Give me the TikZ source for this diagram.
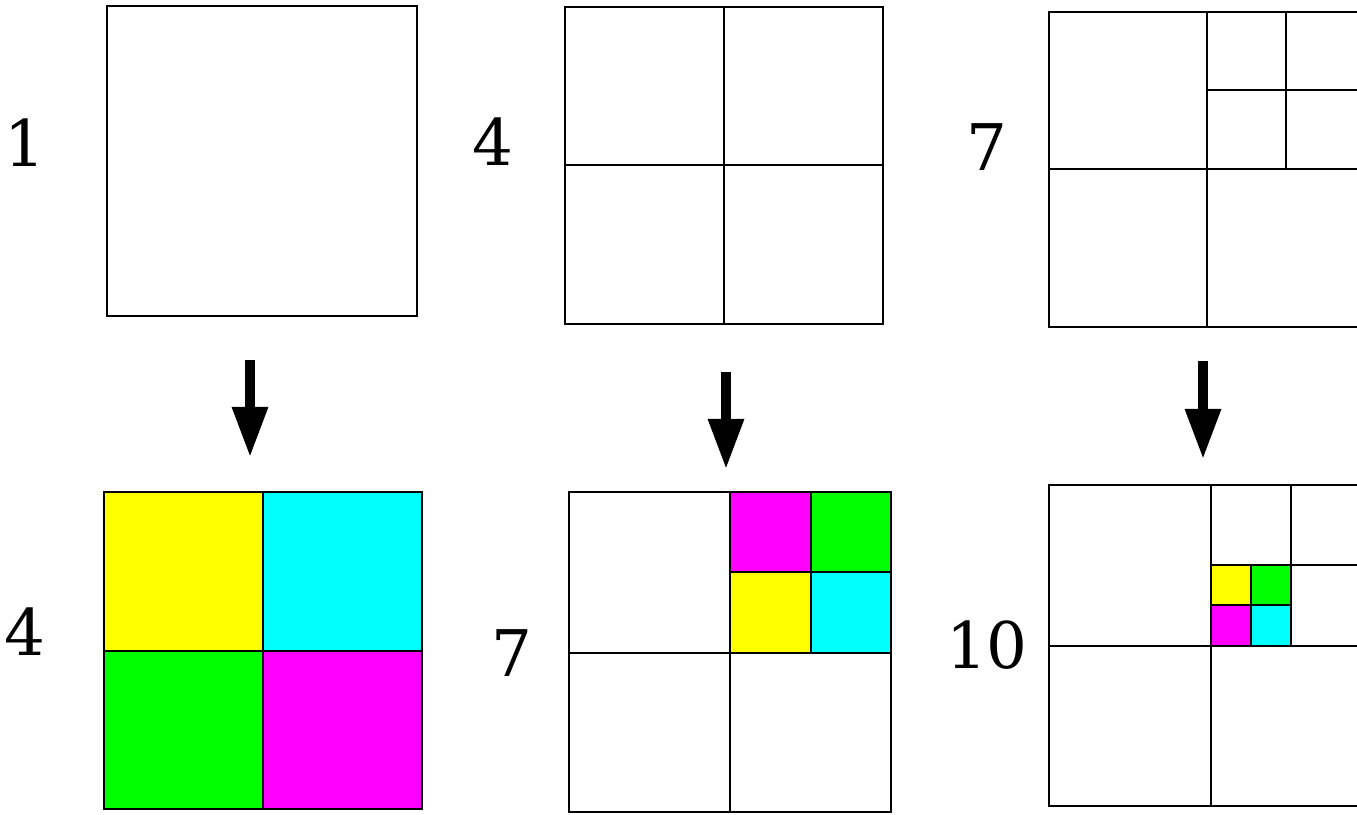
\documentclass[tikz,border=0pt]{standalone}
\usepackage{fontspec}
\setmainfont{DejaVu Serif}
\usetikzlibrary{arrows.meta}
\begin{document}
\begin{tikzpicture}[font=\fontsize{18.3}{22}\selectfont,
    grid/.style={draw=black, line width=0.7pt},
    stepdown/.style={-{Triangle[width=0.34cm, length=0.5cm]}, line width=2.6pt}]
    \definecolor{qyellow}{RGB}{255, 255, 0}
    \definecolor{qcyan}{RGB}{0, 255, 255}
    \definecolor{qgreen}{RGB}{0, 255, 0}
    \definecolor{qmagenta}{RGB}{255, 0, 255}
    \clip (0,0) rectangle (13.57,8.14);
    % counts
    \node (cntA) at (0.25,6.71) {1};
    \node (cntB) at (4.93,6.72) {4};
    \node (cntC) at (9.87,6.67) {7};
    \node (cntD) at (0.25,1.82) {4};
    \node (cntE) at (5.12,1.61) {7};
    \node (cntF) at (9.87,1.69) {10};
    % first column
    \draw[grid] (1.07,8.08) rectangle (4.17,4.98);
    \fill[qyellow] (1.04,3.22) rectangle (2.63,1.63);
    \fill[qcyan] (2.63,3.22) rectangle (4.22,1.63);
    \fill[qgreen] (1.04,1.63) rectangle (2.63,0.05);
    \fill[qmagenta] (2.63,1.63) rectangle (4.22,0.05);
    \draw[grid] (1.04,3.22) rectangle (4.22,0.05);
    \draw[grid] (2.63,3.22) -- (2.63,0.05) (1.04,1.63) -- (4.22,1.63);
    % second column
    \draw[grid] (5.65,8.07) rectangle (8.83,4.90);
    \draw[grid] (7.24,8.07) -- (7.24,4.90) (5.65,6.49) -- (8.83,6.49);
    \fill[qmagenta] (7.30,3.22) rectangle (8.11,2.42);
    \fill[qgreen] (8.11,3.22) rectangle (8.91,2.42);
    \fill[qyellow] (7.30,2.42) rectangle (8.11,1.61);
    \fill[qcyan] (8.11,2.42) rectangle (8.91,1.61);
    \draw[grid] (5.69,3.22) rectangle (8.91,0.02);
    \draw[grid] (7.30,3.22) -- (7.30,0.02) (5.69,1.61) -- (8.91,1.61);
    \draw[grid] (8.11,3.22) -- (8.11,1.61) (7.30,2.42) -- (8.91,2.42);
    % third column
    \draw[grid] (10.49,8.02) rectangle (13.67,4.87);
    \draw[grid] (12.07,8.02) -- (12.07,4.87) (10.49,6.45) -- (13.67,6.45);
    \draw[grid] (12.86,8.02) -- (12.86,6.45) (12.07,7.24) -- (13.67,7.24);
    \fill[qyellow] (12.11,2.49) rectangle (12.51,2.09);
    \fill[qgreen] (12.51,2.49) rectangle (12.91,2.09);
    \fill[qmagenta] (12.11,2.09) rectangle (12.51,1.68);
    \fill[qcyan] (12.51,2.09) rectangle (12.91,1.68);
    \draw[grid] (10.49,3.29) rectangle (13.70,0.08);
    \draw[grid] (12.11,3.29) -- (12.11,0.08) (10.49,1.68) -- (13.70,1.68);
    \draw[grid] (12.91,3.29) -- (12.91,1.68) (12.11,2.49) -- (13.70,2.49);
    \draw[grid] (12.51,2.49) -- (12.51,1.68) (12.11,2.09) -- (12.91,2.09);
    % arrows
    \coordinate (fromA) at (2.50,4.54);
    \coordinate (toA) at (2.50,3.57);
    \coordinate (fromB) at (7.26,4.42);
    \coordinate (toB) at (7.26,3.45);
    \coordinate (fromC) at (12.03,4.53);
    \coordinate (toC) at (12.03,3.55);
    \draw[stepdown] (fromA) -- (toA);
    \draw[stepdown] (fromB) -- (toB);
    \draw[stepdown] (fromC) -- (toC);
\end{tikzpicture}
\end{document}
